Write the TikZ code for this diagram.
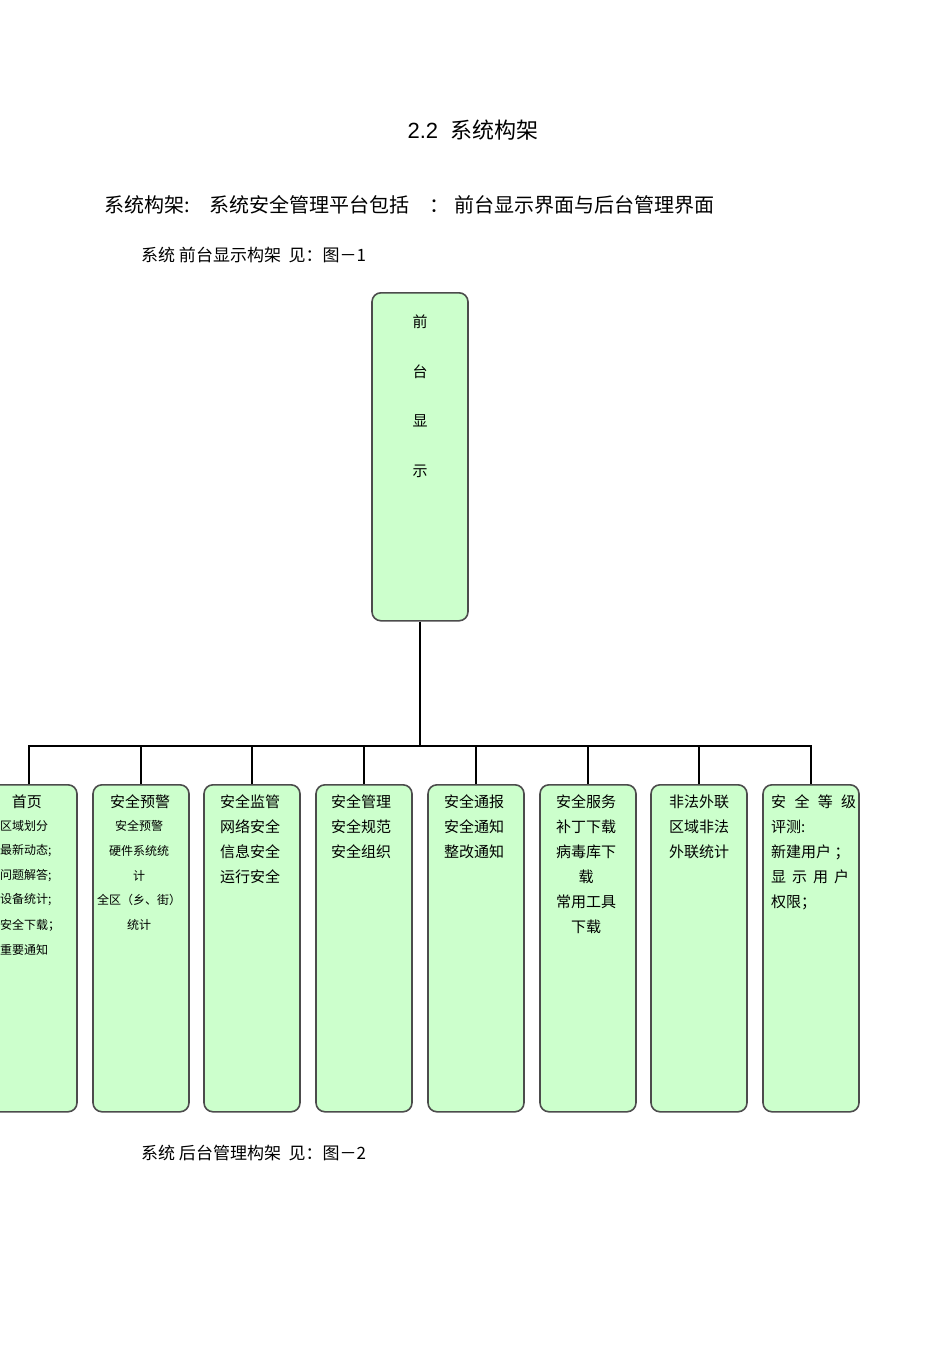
\documentclass[tikz,border=0pt]{standalone}
\usepackage{fontspec}
\setmainfont{Liberation Sans}
\newfontfamily\cjk{Noto Sans CJK SC}
\begin{document}
\begin{tikzpicture}[x=1pt,y=-1pt,
  box/.style={draw=black!70,line width=1.6pt,fill=green!20!white,rounded corners=9pt,minimum width=96pt,anchor=north},
  t/.style={font=\cjk\fontsize{15}{15}\selectfont,inner sep=0pt},
  s/.style={font=\cjk\fontsize{12}{12}\selectfont,inner sep=0pt},
  ln/.style={line width=2.8pt}]
\useasboundingbox (0,0) rectangle (950,1345);
\node[inner sep=0pt] (title) at (473,130) {\fontsize{22}{22}\selectfont 2.2\ \ {\cjk 系统构架}};
\node[inner sep=0pt,font=\cjk\fontsize{20}{20}\selectfont,anchor=west] (sub) at (104,205) {系统构架:\quad 系统安全管理平台包括\quad ：\ 前台显示界面与后台管理界面};
\node[inner sep=0pt,font=\cjk\fontsize{17}{17}\selectfont,anchor=west] (f1) at (141,255) {系统\ 前台显示构架\ \ 见：图－1};
\node[inner sep=0pt,font=\cjk\fontsize{17}{17}\selectfont,anchor=west] (f2) at (141,1153) {系统\ 后台管理构架\ \ 见：图－2};
\node[box,minimum height=328pt] (top) at (420,292) {};
\foreach \c/\y in {前/322,台/372,显/421,示/471} \node[t] at (420,\y) {\c};
\foreach \i/\x in {1/29,2/141,3/252,4/364,5/476,6/588,7/699,8/811}
  \node[box,minimum height=327pt] (b\i) at (\x,784) {};
\coordinate (bar) at (420,746);
\draw[ln] (top.south) -- (bar);
\draw[ln] (b1.north) |- (b8.north |- bar) -- (b8.north);
\foreach \i in {2,...,7} \draw[ln] (b\i.north) -- (b\i.north |- bar);
% box1
\node[t] at (27,802) {首页};
\foreach \txt/\y in {区域划分/826,最新动态;/851,问题解答;/876,设备统计;/900,安全下载；/925,重要通知/950}
  \node[s,anchor=west] at (0,\y) {\txt};
% box2
\node[t] at (140,802) {安全预警};
\foreach \txt/\y in {安全预警/826,硬件系统统/851,计/876,全区（乡、街）/900,统计/925}
  \node[s] at (139,\y) {\txt};
% boxes 3-7
\foreach \txt/\y in {安全监管/802,网络安全/827,信息安全/852,运行安全/877} \node[t] at (250,\y) {\txt};
\foreach \txt/\y in {安全管理/802,安全规范/827,安全组织/852} \node[t] at (361,\y) {\txt};
\foreach \txt/\y in {安全通报/802,安全通知/827,整改通知/852} \node[t] at (474,\y) {\txt};
\foreach \txt/\y in {安全服务/802,补丁下载/827,病毒库下/852,载/877,常用工具/902,下载/927} \node[t] at (586,\y) {\txt};
\foreach \txt/\y in {非法外联/802,区域非法/827,外联统计/852} \node[t] at (699,\y) {\txt};
% box8
\node[t,anchor=west,text width=85pt] at (771,802) {安\hfill 全\hfill 等\hfill 级};
\foreach \txt/\y in {评测:/827,新建用户\ ；/852,权限；/902} \node[t,anchor=west] at (771,\y) {\txt};
\node[t,anchor=west,text width=78pt] at (771,877) {显\hfill 示\hfill 用\hfill 户};
\end{tikzpicture}
\end{document}
